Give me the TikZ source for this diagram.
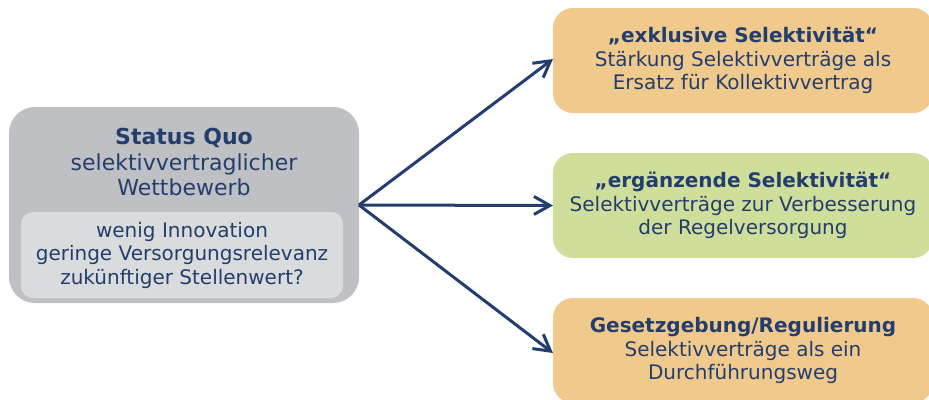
\documentclass[tikz,border=0pt]{standalone}
\usepackage{fontspec}
\setmainfont{DejaVu Sans}
\usetikzlibrary{arrows.meta}
\definecolor{navy}{HTML}{233E6C}
\definecolor{grayout}{HTML}{BFC0C4}
\definecolor{grayin}{HTML}{DADBDD}
\definecolor{orangebox}{HTML}{F0C98D}
\definecolor{greenbox}{HTML}{D0DE9B}
\begin{document}
\begin{tikzpicture}[x=1pt,y=-1pt,
  box/.style={rounded corners=#1, inner sep=0pt, outer sep=0pt, text=navy, align=center},
  bigtxt/.style={font=\fontsize{22}{25.5}\selectfont},
  midtxt/.style={font=\fontsize{20}{23.5}\selectfont},
  conn/.style={draw=navy, line width=3pt, -{Straight Barb[length=16pt,width=18pt,line width=3pt]}}
]
\useasboundingbox (0,0) rectangle (929,399);
% left outer box
\node[box=26pt, fill=grayout, minimum width=350pt, minimum height=196pt] (sq) at (184,205) {};
\node[text=navy, align=center, bigtxt, inner sep=0pt] (sqt) at (184,162) {\textbf{Status Quo}\\selektivvertraglicher\\Wettbewerb};
\node[box=12pt, fill=grayin, minimum width=322pt, minimum height=86pt, midtxt] (inner) at (182,255) {wenig Innovation\\geringe Versorgungsrelevanz\\zukünftiger Stellenwert?};
% right boxes
\node[box=20pt, fill=orangebox, minimum width=380pt, minimum height=105pt, midtxt] (ex) at (743,60.5) {\textbf{„exklusive Selektivität“}\\Stärkung Selektivverträge als\\Ersatz für Kollektivvertrag};
\node[box=20pt, fill=greenbox, minimum width=380pt, minimum height=105pt, midtxt] (er) at (743,205.5) {\textbf{„ergänzende Selektivität“}\\Selektivverträge zur Verbesserung\\der Regelversorgung};
\node[box=20pt, fill=orangebox, minimum width=380pt, minimum height=105pt, midtxt] (ge) at (743,350.5) {\textbf{Gesetzgebung/Regulierung}\\Selektivverträge als ein\\Durchführungsweg};
% arrows
\draw[conn] (sq.east) -- ([yshift=1.5pt]ex.west);
\draw[conn] (sq.east) -- (er.west);
\draw[conn] (sq.east) -- ([yshift=-2.5pt]ge.west);
\end{tikzpicture}
\end{document}
